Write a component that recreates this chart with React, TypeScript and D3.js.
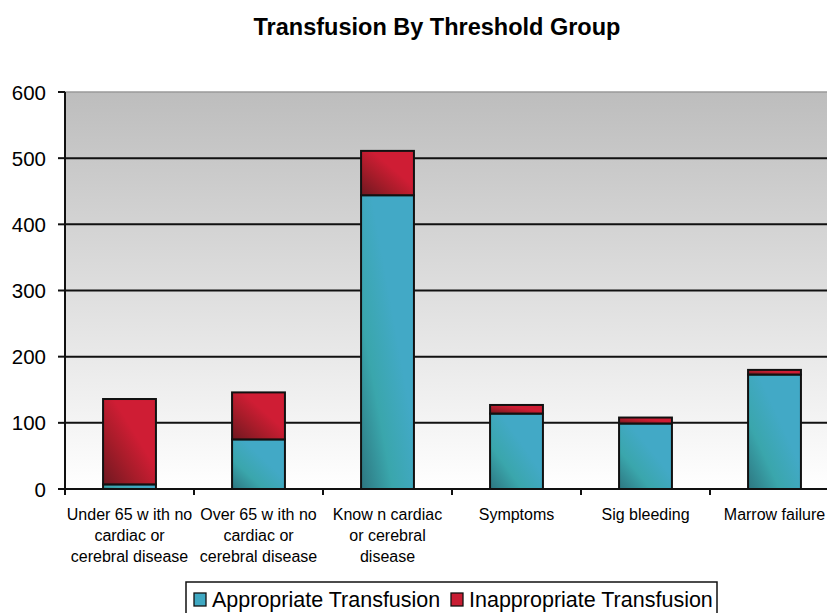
import React from 'react'
import * as d3 from 'd3'

const categories = [
  ['Under 65 w ith no', 'cardiac or', 'cerebral disease'],
  ['Over 65 w ith no', 'cardiac or', 'cerebral disease'],
  ['Know n cardiac', 'or cerebral', 'disease'],
  ['Symptoms'],
  ['Sig bleeding'],
  ['Marrow  failure'],
]
const appropriate = [7, 75, 444, 114, 99, 173]
const inappropriate = [129, 71, 67, 13, 9, 7]
const yTicks = [0, 100, 200, 300, 400, 500, 600]
const seriesNames = ['Appropriate Transfusion', 'Inappropriate Transfusion']

const W = 827
const H = 613
const left = 65
const right = 839
const top = 92
const bottom = 489

export default function App() {
  const x = d3.scaleBand<number>().domain(d3.range(categories.length)).range([left, right]).paddingInner(0.59).paddingOuter(0.295)
  const band = d3.scaleBand<number>().domain(d3.range(categories.length)).range([left, right])
  const y = d3.scaleLinear().domain([0, 600]).range([bottom, top])

  const stacked = appropriate.map((a, i) => [
    { y0: 0, y1: a, fill: 'url(#teal)' },
    { y0: a, y1: a + inappropriate[i], fill: 'url(#red)' },
  ])

  const font = 'Arial, "Liberation Sans", sans-serif'

  return (
    <svg width={W} height={H} style={{ position: 'absolute', left: 0, top: 0, display: 'block' }} fontFamily={font}>
      <defs>
        <linearGradient id="bg" x1="0" y1="0" x2="0" y2="1">
          <stop offset="0" stopColor="#bdbdbd" />
          <stop offset="1" stopColor="#ffffff" />
        </linearGradient>
        <linearGradient id="teal" x1="0" y1="1" x2="1" y2="0">
          <stop offset="0" stopColor="#2d7680" />
          <stop offset="0.3" stopColor="#3aa6ac" />
          <stop offset="0.6" stopColor="#42a9c6" />
        </linearGradient>
        <linearGradient id="red" x1="0" y1="1" x2="1" y2="0">
          <stop offset="0" stopColor="#6e1820" />
          <stop offset="0.35" stopColor="#a81c2a" />
          <stop offset="0.6" stopColor="#cf1d34" />
        </linearGradient>
      </defs>
      <rect width={W} height={H} fill="#fff" />
      <text x={437} y={35} textAnchor="middle" fontWeight="bold" fontSize={23.5}>
        Transfusion By Threshold Group
      </text>

      <rect x={left} y={top} width={right - left} height={bottom - top} fill="url(#bg)" />
      <line x1={left} x2={right} y1={top} y2={top} stroke="#9a9a9a" strokeWidth={1.5} />

      {yTicks.filter((t) => t > 0 && t < 600).map((t) => (
        <line key={t} x1={left} x2={right} y1={y(t)} y2={y(t)} stroke="#111" strokeWidth={2} />
      ))}

      {stacked.map((segs, i) =>
        segs.map((s, j) => (
          <rect
            key={`${i}-${j}`}
            x={x(i)}
            y={y(s.y1)}
            width={x.bandwidth()}
            height={y(s.y0) - y(s.y1)}
            fill={s.fill}
            stroke="#111"
            strokeWidth={2}
          />
        ))
      )}

      <line x1={left} x2={left} y1={top} y2={bottom} stroke="#111" strokeWidth={2} />
      <line x1={left} x2={right} y1={bottom} y2={bottom} stroke="#111" strokeWidth={2} />
      {yTicks.map((t) => (
        <g key={t}>
          <line x1={left - 7} x2={left} y1={y(t)} y2={y(t)} stroke="#111" strokeWidth={2} />
          <text x={46} y={y(t) + 7.5} textAnchor="end" fontSize={20.5}>
            {t}
          </text>
        </g>
      ))}
      {d3.range(categories.length + 1).map((i) => (
        <line key={i} x1={left + i * band.bandwidth()} x2={left + i * band.bandwidth()} y1={bottom} y2={bottom + 6} stroke="#111" strokeWidth={2} />
      ))}
      {categories.map((lines, i) => (
        <text key={i} textAnchor="middle" fontSize={16}>
          {lines.map((l, k) => (
            <tspan key={k} x={band(i)! + band.bandwidth() / 2} y={520 + k * 21}>
              {l}
            </tspan>
          ))}
        </text>
      ))}

      <rect x={186} y={582} width={531} height={32} fill="#fff" stroke="#111" strokeWidth={1.5} />
      {seriesNames.map((n, i) => {
        const lx = i === 0 ? 194 : 451
        return (
          <g key={n}>
            <rect x={lx} y={593} width={12} height={13} fill={i === 0 ? '#3fa8c2' : '#c81d33'} stroke="#111" strokeWidth={1.3} />
            <text x={lx + 18} y={607} fontSize={21.5}>
              {n}
            </text>
          </g>
        )
      })}
    </svg>
  )
}
